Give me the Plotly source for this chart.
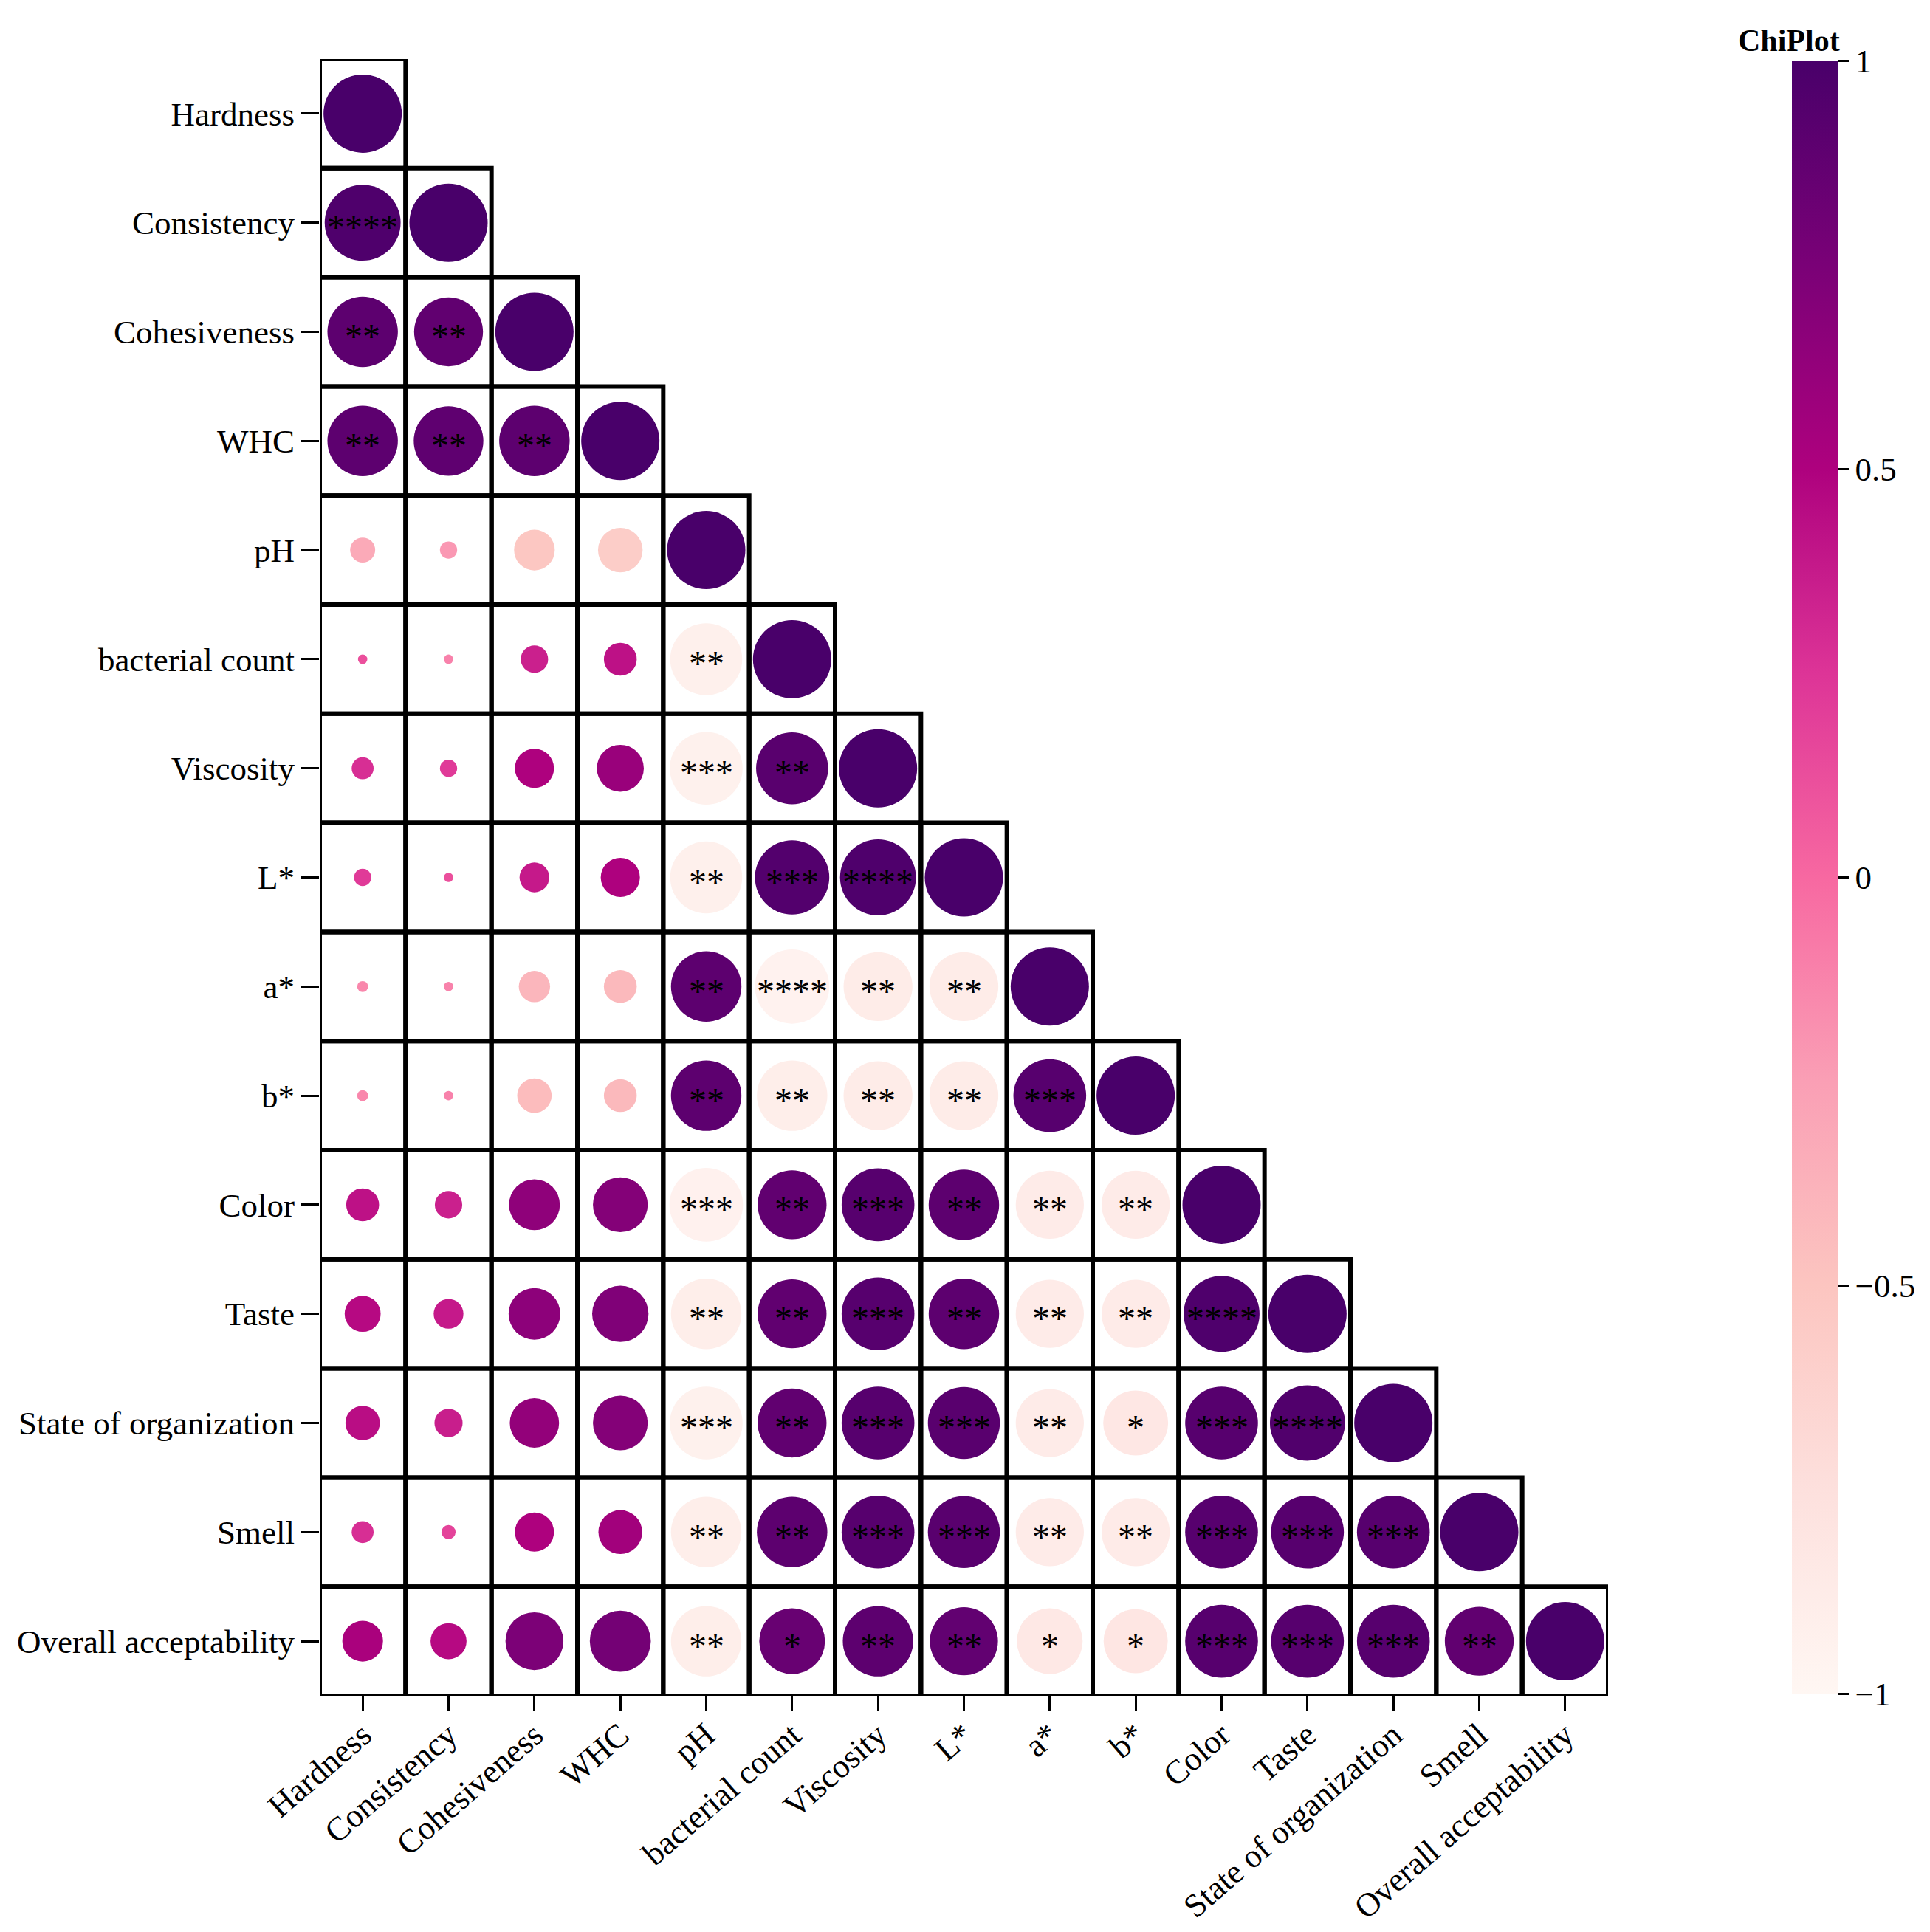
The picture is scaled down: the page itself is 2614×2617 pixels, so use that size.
import plotly.graph_objects as go

variables = ["Hardness", "Consistency", "Cohesiveness", "WHC", "pH", "bacterial count",
             "Viscosity", "L*", "a*", "b*", "Color", "Taste", "State of organization",
             "Smell", "Overall acceptability"]

# lower-triangle correlation rows (row i has i+1 values, last = diagonal)
corr_rows = [
    [1.0],
    [0.97, 1.0],
    [0.90, 0.88, 1.0],
    [0.90, 0.89, 0.90, 1.0],
    [-0.32, -0.22, -0.52, -0.57, 1.0],
    [0.12, -0.12, 0.35, 0.42, -0.92, 1.0],
    [0.28, 0.22, 0.50, 0.60, -0.93, 0.92, 1.0],
    [0.22, 0.12, 0.38, 0.50, -0.92, 0.95, 0.97, 1.0],
    [-0.14, -0.12, -0.40, -0.42, 0.90, -0.95, -0.88, -0.88, 1.0],
    [-0.14, -0.12, -0.44, -0.42, 0.90, -0.90, -0.88, -0.88, 0.93, 1.0],
    [0.42, 0.35, 0.65, 0.70, -0.94, 0.88, 0.93, 0.90, -0.87, -0.87, 1.0],
    [0.46, 0.38, 0.66, 0.72, -0.90, 0.88, 0.93, 0.90, -0.87, -0.87, 0.97, 1.0],
    [0.44, 0.36, 0.63, 0.70, -0.93, 0.88, 0.93, 0.92, -0.87, -0.83, 0.93, 0.96, 1.0],
    [0.28, 0.18, 0.50, 0.56, -0.90, 0.90, 0.93, 0.92, -0.87, -0.87, 0.93, 0.93, 0.93, 1.0],
    [0.52, 0.46, 0.74, 0.78, -0.90, 0.84, 0.90, 0.87, -0.84, -0.82, 0.93, 0.93, 0.93, 0.88, 1.0],
]

sig_rows = [
    [""],
    ["****", ""],
    ["**", "**", ""],
    ["**", "**", "**", ""],
    ["", "", "", "", ""],
    ["", "", "", "", "**", ""],
    ["", "", "", "", "***", "**", ""],
    ["", "", "", "", "**", "***", "****", ""],
    ["", "", "", "", "**", "****", "**", "**", ""],
    ["", "", "", "", "**", "**", "**", "**", "***", ""],
    ["", "", "", "", "***", "**", "***", "**", "**", "**", ""],
    ["", "", "", "", "**", "**", "***", "**", "**", "**", "****", ""],
    ["", "", "", "", "***", "**", "***", "***", "**", "*", "***", "****", ""],
    ["", "", "", "", "**", "**", "***", "***", "**", "**", "***", "***", "***", ""],
    ["", "", "", "", "**", "*", "**", "**", "*", "*", "***", "***", "***", "**", ""],
]

colorbar_ticks = [-1, -0.5, 0, 0.5, 1]
colorbar_ticktext = ["\u22121", "\u22120.5", "0", "0.5", "1"]

# page body has an 8px margin; work in window pixels and shift
OFF = 8
W, H = 2598, 2601
L, R, T, B = 433 - OFF, 2178 - OFF, 80 - OFF, 2297 - OFF
n = len(variables)
FONT = "Liberation Serif"

xs, ys, rs, texts = [], [], [], []
for i, row in enumerate(corr_rows):
    for j, r in enumerate(row):
        xs.append(j)
        ys.append(i)
        rs.append(r)
        texts.append(sig_rows[i][j])

MAXD = 106
sizes = [abs(r) * MAXD for r in rs]

fig = go.Figure()
fig.add_trace(go.Scatter(
    x=xs, y=ys, mode="markers",
    marker=dict(size=sizes, color=rs, colorscale="RdPu", cmin=-1, cmax=1,
                opacity=1, line=dict(width=0),
                colorbar=dict(
                    xref="container", yref="container",
                    x=(2427 - OFF) / W, xanchor="left", xpad=0, ypad=0,
                    y=1 - (95 - OFF) / H, yanchor="top",
                    lenmode="pixels", len=2212,
                    thickness=63, outlinewidth=0,
                    tickvals=colorbar_ticks, ticktext=colorbar_ticktext,
                    ticks="outside", ticklen=14, tickwidth=3, tickcolor="black",
                    tickfont=dict(family=FONT, size=45, color="black"),
                )),
    hoverinfo="skip", showlegend=False,
))

shapes = []
for i, row in enumerate(corr_rows):
    for j in range(len(row)):
        shapes.append(dict(type="rect", xref="x", yref="y",
                           x0=j - 0.5, x1=j + 0.5, y0=i - 0.5, y1=i + 0.5,
                           line=dict(color="black", width=6), fillcolor="rgba(0,0,0,0)",
                           layer="below"))

annotations = [dict(text=t, x=x, y=y, xref="x", yref="y", showarrow=False,
                    xanchor="center", yanchor="middle", yshift=-6,
                    font=dict(family=FONT, size=48, color="black"))
               for x, y, t in zip(xs, ys, texts) if t]
annotations.append(dict(text="<b>ChiPlot</b>", xref="paper", yref="paper",
                        x=(2423 - OFF - L) / (R - L), y=1 + (T - (55 - OFF)) / (B - T),
                        xanchor="center", yanchor="middle", showarrow=False,
                        font=dict(family=FONT, size=42, color="black")))

fig.update_layout(
    width=W, height=H,
    margin=dict(l=L, r=W - R, t=T, b=H - B, pad=0, autoexpand=False),
    paper_bgcolor="white", plot_bgcolor="white",
    shapes=shapes,
    annotations=annotations,
    font=dict(family=FONT, color="black"),
    xaxis=dict(range=[-0.5, n - 0.5], tickmode="array", tickvals=list(range(n)),
               ticktext=variables, tickangle=-41, showgrid=False, zeroline=False,
               showline=False, ticks="outside", ticklen=20, tickwidth=3, tickcolor="black",
               automargin=False, ticklabelstandoff=-12,
               tickfont=dict(family=FONT, size=45, color="black")),
    yaxis=dict(range=[n - 0.5, -0.5], tickmode="array", tickvals=list(range(n)),
               ticktext=variables, showgrid=False, zeroline=False, showline=False,
               ticks="outside", ticklen=24, tickwidth=3, tickcolor="black",
               automargin=False,
               tickfont=dict(family=FONT, size=45, color="black")),
)

fig.write_html("out.html")
